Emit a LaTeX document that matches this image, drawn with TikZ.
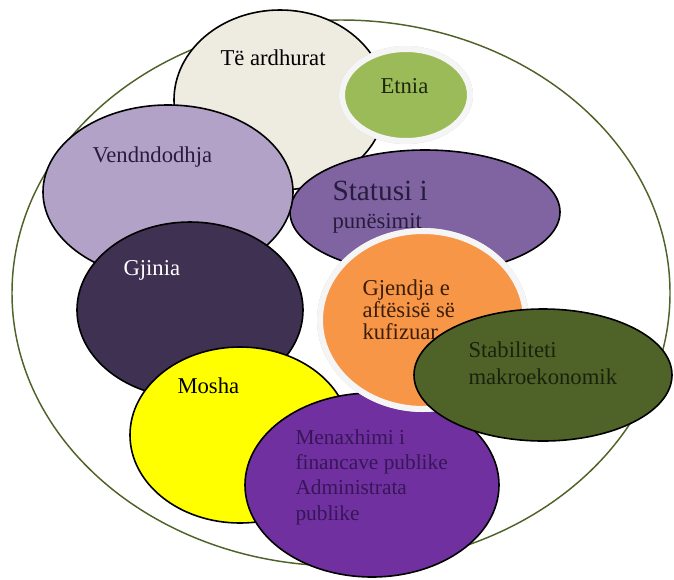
\documentclass[tikz,border=0pt]{standalone}
\usepackage{fontspec}
\setmainfont{Liberation Serif}

\tikzset{every picture/.style={line width=0.75pt}}
\tikzset{txt/.style={anchor=base west, inner sep=0pt, align=left, font=\fontsize{17}{20}\selectfont}}

\begin{document}
\begin{tikzpicture}[x=0.75pt,y=0.75pt,yscale=-1,xscale=1]
\path [use as bounding box] (0,0) rectangle (674,579); %size of the reference

%Shape: Ellipse (frame)
\draw [color={rgb, 255:red, 79; green, 98; blue, 40 }  ,draw opacity=1 ][line width=1.1] (341,293) ellipse [x radius=329, y radius=273];

%Shape: Ellipse (Te ardhurat)
\draw [fill={rgb, 255:red, 238; green, 236; blue, 225 }  ,fill opacity=1 ][line width=1.2] (280,100) ellipse [x radius=106, y radius=90];
% Text Node
\draw (220,65) node [txt] (ardhurat) {Të ardhurat};

%Shape: Ellipse (Statusi)
\draw [fill={rgb, 255:red, 128; green, 100; blue, 162 }  ,fill opacity=1 ][line width=1.2] (425,212) ellipse [x radius=135, y radius=62];
% Text Node
\draw (332,200) node [txt, font=\fontsize{22}{24}\selectfont, color={rgb, 255:red, 40; green, 28; blue, 62 }] (statusi) {Statusi i};
% Text Node
\draw (332,228) node [txt, color={rgb, 255:red, 40; green, 28; blue, 62 }] (punesimit) {punësimit};

%Shape: Ellipse (Vendndodhja)
\draw [fill={rgb, 255:red, 178; green, 162; blue, 199 }  ,fill opacity=1 ][line width=1.2] (168,192) ellipse [x radius=125, y radius=87];
% Text Node
\draw (92,162) node [txt, color={rgb, 255:red, 40; green, 28; blue, 62 }] (vendndodhja) {Vendndodhja};

%Shape: Ellipse (Gjinia)
\draw [fill={rgb, 255:red, 63; green, 49; blue, 81 }  ,fill opacity=1 ][line width=1.2] (190,310) ellipse [x radius=113, y radius=88];
% Text Node
\draw (123,275) node [txt, color=white] (gjinia) {Gjinia};

%Shape: Ellipse (Etnia)
\draw [color={rgb, 255:red, 205; green, 205; blue, 205 }  ,draw opacity=1 ] (406,95) ellipse [x radius=66.5, y radius=48.5];
\draw [color={rgb, 255:red, 245; green, 245; blue, 245 }  ,draw opacity=1 ][fill={rgb, 255:red, 155; green, 187; blue, 89 }  ,fill opacity=1 ][line width=4.5] (406,95) ellipse [x radius=64, y radius=46];
% Text Node
\draw (380,93) node [txt, color={rgb, 255:red, 30; green, 40; blue, 15 }] (etnia) {Etnia};

%Shape: Ellipse (Mosha)
\draw [fill={rgb, 255:red, 255; green, 255; blue, 0 }  ,fill opacity=1 ][line width=1.2] (240,435) ellipse [x radius=110, y radius=88];
% Text Node
\draw (177,393) node [txt] (mosha) {Mosha};

%Shape: Ellipse (Menaxhimi)
\draw [fill={rgb, 255:red, 112; green, 48; blue, 160 }  ,fill opacity=1 ][line width=1.2] (372,485) ellipse [x radius=127, y radius=92];
% Text Node (base is the last line)
\draw (295,520) node [txt, font=\fontsize{16}{19}\selectfont, color={rgb, 255:red, 55; green, 22; blue, 88 }] (menaxhimi) {Menaxhimi i\\financave publike\\Administrata\\publike};

%Shape: Ellipse (Gjendja)
\draw [color={rgb, 255:red, 205; green, 205; blue, 205 }  ,draw opacity=1 ] (423,320) ellipse [x radius=105.5, y radius=91.5];
\draw [color={rgb, 255:red, 245; green, 245; blue, 245 }  ,draw opacity=1 ][fill={rgb, 255:red, 247; green, 150; blue, 70 }  ,fill opacity=1 ][line width=4.5] (423,320) ellipse [x radius=103, y radius=89];
% Text Node (base is the last line)
\draw (362,339) node [txt, font=\fontsize{17}{16.5}\selectfont, color={rgb, 255:red, 58; green, 30; blue, 10 }] (gjendja) {Gjendja e\\aftësisë së\\kufizuar};

%Shape: Ellipse (Stabiliteti)
\draw [fill={rgb, 255:red, 79; green, 98; blue, 40 }  ,fill opacity=1 ][line width=1.2] (543,375) ellipse [x radius=129, y radius=66];
% Text Node (base is the last line)
\draw (468,384) node [txt, color={rgb, 255:red, 25; green, 35; blue, 12 }] (stabiliteti) {Stabiliteti\\makroekonomik};

\end{tikzpicture}
\end{document}
